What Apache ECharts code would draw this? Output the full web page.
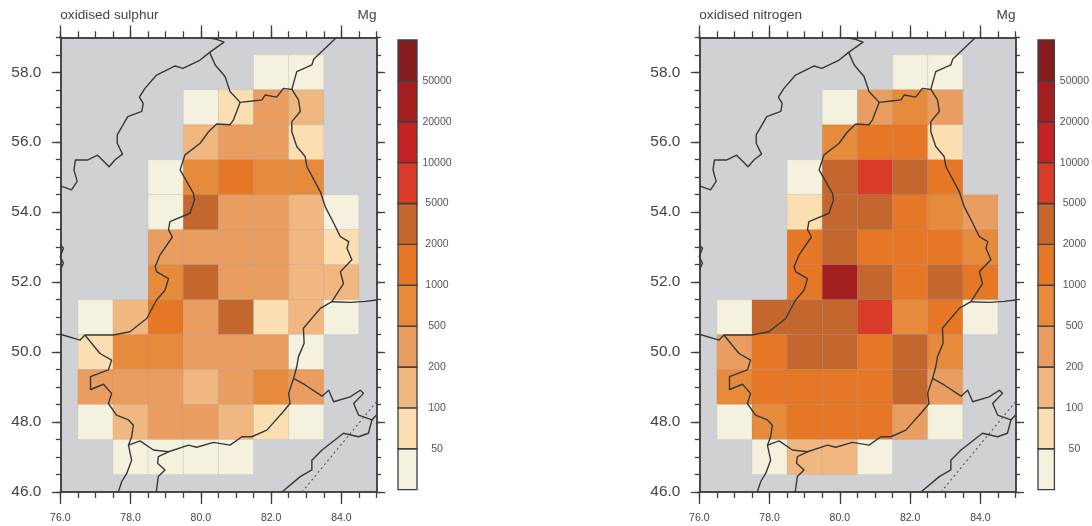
<!DOCTYPE html>
<html><head><meta charset="utf-8">
<style>html,body{margin:0;padding:0;background:#fff}#c{width:1092px;height:526px}</style>
<script src="https://cdn.jsdelivr.net/npm/echarts@6/dist/echarts.min.js"></script>
</head><body><div id="c"></div>
<script>
const lons = [77,78,79,80,81,82,83,84];
const lats = [58,57,56,55,54,53,52,51,50,49,48,47];
const sulphur = [
 [null,null,null,null,null,25,25,null],
 [null,null,null,25,75,350,150,null],
 [null,null,null,150,350,350,75,null],
 [null,null,25,750,1500,750,750,null],
 [null,null,25,3500,350,350,150,25],
 [null,null,350,350,350,350,150,75],
 [null,null,750,3500,350,350,150,150],
 [25,150,1500,350,3500,75,150,25],
 [75,750,750,350,350,350,25,null],
 [350,350,350,150,350,750,350,null],
 [25,150,350,350,150,75,25,null],
 [null,25,25,25,25,null,null,null]
];
const nitrogen = [
 [null,null,null,null,null,25,25,null],
 [null,null,null,25,350,750,350,null],
 [null,null,null,750,1500,1500,75,null],
 [null,null,25,3500,7500,3500,1500,null],
 [null,null,75,3500,3500,1500,750,350],
 [null,null,1500,3500,1500,1500,1500,750],
 [null,null,1500,35000,3500,1500,3500,1500],
 [25,3500,3500,3500,7500,750,1500,25],
 [350,1500,3500,3500,1500,3500,750,null],
 [750,1500,1500,1500,1500,3500,350,null],
 [25,750,1500,1500,1500,350,25,null],
 [null,25,150,150,25,null,null,null]
];
const levels = [50,100,200,500,1000,2000,5000,10000,20000,50000];
const colours = ['#f5f1df','#fbdfb3','#f1b781','#ea9d61','#e68a3b','#e57727','#c3672f','#d83b28','#c32423','#a41f20','#851c1e'];

const borderNW = [[76,54.75],[76.32,54.64],[76.48,54.88],[76.39,55.21],[76.43,55.49],[76.77,55.49],[77.06,55.63],[77.39,55.30],[77.56,55.50],[77.77,55.66],[77.62,55.97],[77.62,56.21],[77.92,56.73],[78.32,56.88],[78.36,57.11],[78.25,57.29],[78.41,57.54],[78.74,57.92],[79.27,58.18],[79.49,58.11],[79.98,58.35],[80.25,58.57],[80.66,58.86],[80.45,58.94],[80.17,58.99]];
const borderWest = [[80.25,58.57],[80.41,58.21],[80.69,57.88],[80.83,57.45],[81.12,57.14],[80.93,56.64],[80.83,56.50],[80.45,56.52],[80.22,56.30],[79.98,55.97],[79.55,55.64],[79.41,55.21],[79.79,54.54],[79.82,54.35],[79.69,53.97],[79.12,53.73],[79.08,53.50],[79.19,53.29],[78.84,52.78],[78.70,52.44],[78.74,52.30],[79.08,52.10],[78.98,51.77],[78.74,51.49],[78.46,50.96],[77.98,50.58],[77.51,50.49],[76.70,50.49],[76.56,50.34],[76,50.51]];
const borderNE = [[81.12,57.14],[81.47,57.18],[81.74,57.21],[81.83,57.35],[82.16,57.29],[82.35,57.54],[82.59,57.51],[82.73,58.02],[82.69,58.07],[83.16,58.21],[83.21,58.37],[83.54,58.69],[83.87,59]];
const borderEast = [[82.59,57.51],[82.78,57.21],[82.83,56.88],[82.59,56.59],[82.59,56.30],[82.73,55.88],[82.97,55.59],[83.02,55.30],[83.40,54.59],[83.54,54.16],[83.78,53.69],[83.97,53.30],[84.21,53.16],[84.16,52.97],[84.30,52.64],[83.97,52.30],[84.06,51.96],[83.73,51.44],[83.40,51.25],[82.92,50.68],[82.94,50.25],[82.78,49.87],[82.73,49.58],[82.64,49.25],[82.50,48.82],[82.54,48.53],[82.35,48.30],[81.88,47.77],[81.45,47.58],[81.17,47.58],[80.83,47.34],[80.36,47.42],[79.88,47.28],[79.65,47.34],[79.08,47.15],[78.65,47.20],[78.27,47.46],[77.94,47.34],[78.03,47.58],[78.08,47.91],[77.94,48.06],[77.60,48.20],[77.37,48.53],[77.46,48.82],[77.23,49.08],[76.86,48.93],[76.86,49.30],[77.37,49.49],[77.46,49.77],[77.13,49.96],[76.70,50.49]];
const borderS1 = [[77.94,47.34],[78.03,46.91],[77.89,46.53],[77.75,46.30],[77.65,46]];
const borderS2 = [[79.08,47.15],[78.79,47.01],[78.77,46.82],[78.98,46.63],[78.79,46.44],[78.73,46]];
const borderE1 = [[83.73,51.44],[84.25,51.42],[84.68,51.45],[85,51.49]];
const borderE2 = [[82.64,49.25],[82.97,49.06],[83.45,48.74],[83.64,48.91],[83.78,48.58],[84.25,48.72],[84.54,48.91],[84.63,48.82],[84.35,48.53],[84.49,48.20],[84.87,48.06],[85,48.20]];
const borderSE = [[84.87,48.06],[84.77,47.68],[84.49,47.58],[84.06,47.68],[83.45,47.20],[83.16,46.91],[83.16,46.63],[82.83,46.44],[82.31,46]];
const borderW2 = [[76,53.07],[76.09,52.97],[76,52.73],[76.09,52.54],[76,52.35]];
const dottedLine = [[85,48.58],[82.88,46]];
const solidBorders = [borderNW,borderWest,borderNE,borderEast,borderS1,borderS2,borderE1,borderE2,borderSE,borderW2];

const xMajors = [76,78,80,82,84];
const yMajors = [46,48,50,52,54,56,58];
const titles = ['oxidised sulphur','oxidised nitrogen'];
const unitLabel = 'Mg';

function colourFor(v){let i=0;while(i<levels.length&&v>=levels[i])i++;return colours[i];}
const ink='#3f3f3f', font='"Liberation Sans",Arial,sans-serif';
const grid=[],xAxis=[],yAxis=[],series=[],graphic=[];

function addPanel(left,barLeft,barW,rows,title){
  const top=37.3,w=316.2,h=454.7;
  const g=grid.length;
  grid.push({left,top,width:w,height:h,show:true,backgroundColor:'#cfd1d4',borderWidth:0});
  grid.push({left,top,width:w,height:h});
  const ax={min:76,max:85,type:'value',splitLine:{show:false},axisLine:{onZero:false,lineStyle:{color:ink,width:1.5}}};
  const ay={min:46,max:59,type:'value',splitLine:{show:false},axisLine:{onZero:false,lineStyle:{color:ink,width:1.5}}};
  const xi=xAxis.length, yi=yAxis.length;
  ['bottom','top'].forEach(p=>xAxis.push({...ax,gridIndex:g,position:p,interval:0.5,axisLabel:{show:false},axisTick:{length:6,lineStyle:{color:ink,width:1.3}}}));
  ['left','right'].forEach(p=>yAxis.push({...ay,gridIndex:g,position:p,interval:0.5,axisLabel:{show:false},axisTick:{length:4.5,lineStyle:{color:ink,width:1.3}}}));
  ['bottom','top'].forEach(p=>xAxis.push({...ax,gridIndex:g+1,position:p,interval:2,
    axisTick:{length:12,customValues:xMajors,lineStyle:{color:ink,width:1.3}},
    axisLabel:{show:p==='bottom',customValues:xMajors,formatter:v=>v.toFixed(1),fontSize:10.5,color:'#444',fontFamily:font,margin:21}}));
  ['left','right'].forEach(p=>yAxis.push({...ay,gridIndex:g+1,position:p,interval:2,
    axisTick:{length:8.5,customValues:yMajors,lineStyle:{color:ink,width:1.3}},
    axisLabel:{show:p==='left',customValues:yMajors,formatter:v=>v.toFixed(1),fontSize:15.4,color:'#444',fontFamily:font,margin:19}}));
  const cells=[];
  lats.forEach((la,r)=>lons.forEach((lo,c)=>{if(rows[r][c]!=null)cells.push([lo,la,rows[r][c]]);}));
  series.push({type:'custom',xAxisIndex:xi,yAxisIndex:yi,z:2,clip:true,data:cells,encode:{x:0,y:1},
    renderItem:(p,api)=>{
      const a=api.coord([api.value(0)-0.5,api.value(1)+0.5]),b=api.coord([api.value(0)+0.5,api.value(1)-0.5]);
      return {type:'rect',shape:{x:a[0],y:a[1],width:b[0]-a[0],height:b[1]-a[1]},
        style:{fill:colourFor(api.value(2)),stroke:'rgba(120,120,120,0.1)',lineWidth:1}};
    }});
  solidBorders.forEach(b=>series.push({type:'line',xAxisIndex:xi,yAxisIndex:yi,z:5,data:b,symbol:'none',silent:true,
    lineStyle:{color:'#383838',width:1.4,join:'round'}}));
  series.push({type:'line',xAxisIndex:xi,yAxisIndex:yi,z:5,data:dottedLine,symbol:'none',silent:true,
    lineStyle:{color:'#555',width:1.1,type:[2,3]}});
  graphic.push({type:'text',left:left,top:8,style:{text:title,font:'13.6px '+font,fill:'#444'}});
  graphic.push({type:'text',right:1092-left-w,top:8,style:{text:unitLabel,font:'13.6px '+font,fill:'#444'}});
  const gb=grid.length;
  grid.push({left:barLeft,top:40,width:barW,height:449.6});
  const xb=xAxis.length,yb=yAxis.length;
  xAxis.push({type:'value',gridIndex:gb,min:0,max:1,show:false});
  yAxis.push({type:'value',gridIndex:gb,position:'right',min:0,max:11,interval:1,
    axisLine:{show:false},axisTick:{show:false},splitLine:{show:false},
    axisLabel:{show:true,margin:20,width:40,align:'center',fontSize:10.5,color:'#555',fontFamily:font,
      formatter:v=>(v>=1&&v<=levels.length)?String(levels[v-1]):''}});
  series.push({type:'custom',xAxisIndex:xb,yAxisIndex:yb,z:3,clip:false,data:colours.map((c,i)=>[0,i]),encode:{x:0,y:1},
    renderItem:(p,api)=>{
      const i=api.value(1),a=api.coord([0,i+1]),b=api.coord([1,i]);
      return {type:'rect',shape:{x:a[0],y:a[1],width:b[0]-a[0],height:b[1]-a[1]},style:{fill:colours[i],stroke:'#3f3f3f',lineWidth:1.3}};
    }});
}
addPanel(60.3,398,19,sulphur,titles[0]);
addPanel(699.3,1038,19,nitrogen,titles[1]);

const chart=echarts.init(document.getElementById('c'),null,{renderer:'canvas'});
chart.setOption({animation:false,backgroundColor:'#fff',grid,xAxis,yAxis,series,graphic,tooltip:{show:false}});
</script></body></html>
